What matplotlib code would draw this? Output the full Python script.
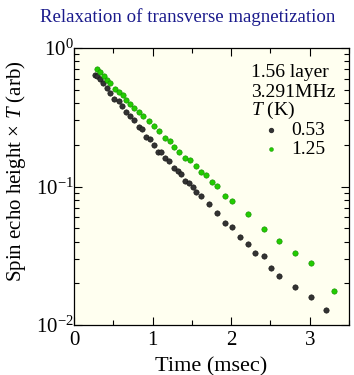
import matplotlib
matplotlib.use('Agg')
import matplotlib.pyplot as plt
from matplotlib.ticker import LogLocator, MultipleLocator, NullFormatter

plt.rcParams['font.family'] = ['Liberation Serif', 'DejaVu Serif']
plt.rcParams['mathtext.fontset'] = 'custom'
plt.rcParams['mathtext.rm'] = 'Liberation Serif'
plt.rcParams['mathtext.it'] = 'Liberation Serif:italic'

# T = 0.53 K
t_053 = [0.265, 0.295, 0.328, 0.371, 0.425, 0.463, 0.505, 0.573, 0.615, 0.665,
         0.707, 0.758, 0.821, 0.863, 0.918, 0.968, 1.015, 1.065, 1.107, 1.162,
         1.213, 1.267, 1.318, 1.360, 1.415, 1.465, 1.516, 1.558, 1.613, 1.718,
         1.815, 1.916, 2.013, 2.109, 2.211, 2.307, 2.413, 2.509, 2.615, 2.813,
         3.015, 3.213]
h_053 = [0.641, 0.624, 0.597, 0.558, 0.514, 0.473, 0.430, 0.416, 0.379, 0.348,
         0.324, 0.303, 0.271, 0.260, 0.227, 0.220, 0.198, 0.179, 0.177, 0.160,
         0.152, 0.137, 0.130, 0.123, 0.110, 0.106, 0.0989, 0.0920, 0.0861, 0.0750,
         0.0649, 0.0549, 0.0514, 0.0431, 0.0385, 0.0330, 0.0315, 0.0260, 0.0227, 0.0187,
         0.0160, 0.0128]

# T = 1.25 K
t_125 = [0.295, 0.337, 0.379, 0.425, 0.463, 0.518, 0.568, 0.623, 0.665, 0.716,
         0.758, 0.821, 0.876, 0.952, 1.015, 1.086, 1.162, 1.221, 1.276, 1.339,
         1.415, 1.478, 1.549, 1.613, 1.676, 1.760, 1.815, 1.916, 2.013, 2.215,
         2.413, 2.615, 2.813, 3.015, 3.309]
h_125 = [0.709, 0.667, 0.624, 0.584, 0.558, 0.505, 0.478, 0.460, 0.419, 0.396,
         0.368, 0.345, 0.321, 0.295, 0.275, 0.250, 0.224, 0.214, 0.192, 0.177,
         0.162, 0.156, 0.140, 0.128, 0.121, 0.107, 0.101, 0.0861, 0.0792, 0.0631,
         0.0492, 0.0405, 0.0333, 0.0279, 0.0176]

fig = plt.figure(figsize=(3.54, 3.75), dpi=100)
ax = fig.add_axes([0.209, 0.133, 0.777, 0.739])
ax.set_facecolor('#fffff0')

ax.scatter(t_053, h_053, s=15, color='#333333', edgecolors='#111111', linewidths=0.4, zorder=3)
ax.scatter(t_125, h_125, s=15, color='#22cc00', edgecolors='#118800', linewidths=0.4, zorder=3)

ax.set_yscale('log')
ax.set_xlim(0, 3.5)
ax.set_ylim(1e-2, 1)
ax.xaxis.set_major_locator(MultipleLocator(1))
ax.xaxis.set_minor_locator(MultipleLocator(0.5))
ax.yaxis.set_minor_locator(LogLocator(base=10, subs=range(2, 10)))
ax.yaxis.set_minor_formatter(NullFormatter())

ax.tick_params(which='both', direction='in', top=True, right=True, labelsize=15)
ax.tick_params(which='major', length=6, width=0.8)
ax.tick_params(which='minor', length=3.5, width=0.8)
ax.tick_params(axis='x', pad=4)
ax.tick_params(axis='y', pad=0)
for sp in ax.spines.values():
    sp.set_linewidth(0.9)

ax.set_xlabel('Time (msec)', fontsize=16)
ax.xaxis.set_label_coords(0.5, -0.115)
ax.set_ylabel(r'Spin echo height$\,\times\,$$\mathit{T}$ (arb)', fontsize=15)
ax.yaxis.set_label_coords(-0.167, 0.556)
fig.text(0.53, 0.955, 'Relaxation of transverse magnetization', color='#1a1a8c',
         fontsize=13.6, ha='center', va='center')

fs = 14
ax.text(0.645, 0.910, '1.56 layer', transform=ax.transAxes, ha='left', va='center', fontsize=fs)
ax.text(0.645, 0.841, '3.291MHz', transform=ax.transAxes, ha='left', va='center', fontsize=fs)
ax.text(0.645, 0.773, r'$\mathit{T}$ (K)', transform=ax.transAxes, ha='left', va='center', fontsize=fs)
ax.scatter([0.717], [0.704], s=8, color='#333333', transform=ax.transAxes, zorder=3)
ax.scatter([0.717], [0.635], s=8, color='#22cc00', edgecolors='#118800', linewidths=0.3,
           transform=ax.transAxes, zorder=3)
ax.text(0.79, 0.704, '0.53', transform=ax.transAxes, ha='left', va='center', fontsize=fs)
ax.text(0.79, 0.635, '1.25', transform=ax.transAxes, ha='left', va='center', fontsize=fs)

fig.savefig('out.png', dpi=100)
